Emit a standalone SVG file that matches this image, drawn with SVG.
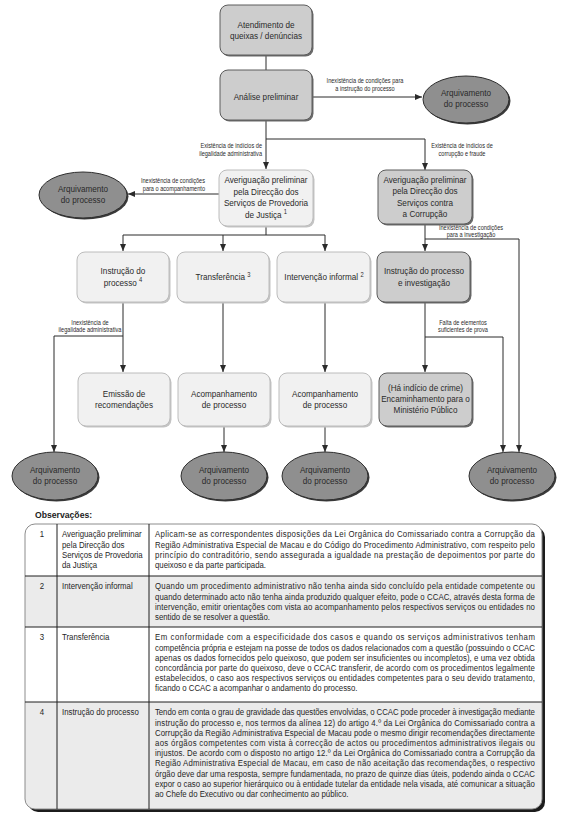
<svg xmlns="http://www.w3.org/2000/svg" width="566" height="826" viewBox="0 0 566 826">
<style>
.t{font-family:'Liberation Sans',Arial,sans-serif;font-size:9.6px;fill:#2a2a2a;text-anchor:middle}
.lb{font-family:'Liberation Sans',Arial,sans-serif;font-size:6.6px;fill:#2a2a2a}
.tb{font-family:'Liberation Sans',Arial,sans-serif;font-size:9.2px;fill:#262626}
.hd{font-family:'Liberation Sans',Arial,sans-serif;font-size:9.6px;font-weight:bold;fill:#222}
.bg{fill:#cdcdcd;stroke:#5c5c5c;stroke-width:1}
.bl{fill:#f1f1f1;stroke:#bcbcbc;stroke-width:1}
.sg{fill:#6a6a6a}
.sl{fill:#c4c4c4}
.el{fill:#8f8f8f;stroke:#2e2e2e;stroke-width:1}
.se{fill:#3a3a3a}
.c{stroke:#2a2a2a;stroke-width:1;fill:none}
.a{marker-end:url(#ar)}
.sup{font-size:6.8px}
.tl{stroke:#1e1e1e;stroke-width:1}
</style>
<defs>
<marker id="ar" markerUnits="userSpaceOnUse" markerWidth="7" markerHeight="6" refX="7" refY="3" orient="auto">
<path d="M0,0 L7,3 L0,6 z" fill="#2a2a2a"/>
</marker>
<clipPath id="tc"><rect x="25" y="524" width="517" height="285" rx="10"/></clipPath>
</defs>

<g id="connectors">
<line class="c" x1="266" y1="55" x2="266" y2="70"/>
<line class="c a" x1="312" y1="97" x2="422" y2="97"/>
<line class="c a" x1="266" y1="120" x2="266" y2="169"/>
<polyline class="c a" points="266,139 425,139 425,170"/>
<line class="c a" x1="219" y1="194" x2="128" y2="194"/>
<polyline class="c" points="266,227 266,235"/>
<line class="c" x1="123" y1="235" x2="325" y2="235"/>
<line class="c a" x1="123" y1="235" x2="123" y2="251"/>
<line class="c a" x1="223" y1="235" x2="223" y2="251"/>
<line class="c a" x1="325" y1="235" x2="325" y2="251"/>
<line class="c a" x1="425" y1="224" x2="425" y2="251"/>
<polyline class="c a" points="425,239 519,239 519,452"/>
<line class="c a" x1="123" y1="302" x2="123" y2="372"/>
<polyline class="c a" points="123,336 54,336 54,452"/>
<line class="c a" x1="223" y1="302" x2="223" y2="372"/>
<line class="c a" x1="325" y1="302" x2="325" y2="372"/>
<line class="c a" x1="425" y1="302" x2="425" y2="372"/>
<polyline class="c a" points="425,337 503,337 503,452"/>
<line class="c a" x1="224" y1="426" x2="224" y2="452"/>
<line class="c a" x1="325" y1="426" x2="325" y2="452"/>
<g transform="translate(365 0) scale(0.85 1)">
<text class="lb" text-anchor="middle" x="0" y="83">Inexistência de condições para</text>
<text class="lb" text-anchor="middle" x="0" y="91">a instrução do processo</text>
</g>
<g transform="translate(262 0) scale(0.85 1)">
<text class="lb" text-anchor="end" x="0" y="148">Existência de indícios de</text>
<text class="lb" text-anchor="end" x="0" y="156">ilegalidade administrativa</text>
</g>
<g transform="translate(462 0) scale(0.85 1)">
<text class="lb" text-anchor="middle" x="0" y="148">Existência de indícios de</text>
<text class="lb" text-anchor="middle" x="0" y="156">corrupção e fraude</text>
</g>
<g transform="translate(205 0) scale(0.85 1)">
<text class="lb" text-anchor="end" x="0" y="183">Inexistência de condições</text>
<text class="lb" text-anchor="end" x="0" y="191">para o acompanhamento</text>
</g>
<g transform="translate(471 0) scale(0.85 1)">
<text class="lb" text-anchor="middle" x="0" y="230.5">Inexistência de condições</text>
<text class="lb" text-anchor="middle" x="0" y="237">para a investigação</text>
</g>
<g transform="translate(90 0) scale(0.85 1)">
<text class="lb" text-anchor="middle" x="0" y="325">Inexistência de</text>
<text class="lb" text-anchor="middle" x="0" y="332">ilegalidade administrativa</text>
</g>
<g transform="translate(463 0) scale(0.85 1)">
<text class="lb" text-anchor="middle" x="0" y="325">Falta de elementos</text>
<text class="lb" text-anchor="middle" x="0" y="332">suficientes de prova</text>
</g>
</g>

<g id="n-atendimento">
<rect class="sg" x="221.5" y="6.5" width="92" height="50" rx="8"/>
<rect class="bg" x="220" y="5" width="92" height="50" rx="8"/>
<g transform="translate(266 0) scale(0.85 1)">
<text class="t" x="0" y="28">Atendimento de</text>
<text class="t" x="0" y="39.5">queixas / denúncias</text>
</g>
</g>
<g id="n-analise">
<rect class="sg" x="221.5" y="71.5" width="92" height="50" rx="8"/>
<rect class="bg" x="220" y="70" width="92" height="50" rx="8"/>
<g transform="translate(266 0) scale(0.85 1)">
<text class="t" x="0" y="100">Análise preliminar</text>
</g>
</g>
<g id="n-arq1">
<ellipse class="se" cx="467.5" cy="101" rx="43" ry="23.5"/>
<ellipse class="el" cx="466" cy="99.5" rx="43" ry="23.5"/>
<g transform="translate(466 0) scale(0.85 1)">
<text class="t" x="0" y="96">Arquivamento</text>
<text class="t" x="0" y="107.5">do processo</text>
</g>
</g>
<g id="n-provedoria">
<rect class="sl" x="220.5" y="171.5" width="94" height="56" rx="8"/>
<rect class="bl" x="219" y="170" width="94" height="56" rx="8"/>
<g transform="translate(266 0) scale(0.85 1)">
<text class="t" x="0" y="183.5">Averiguação preliminar</text>
<text class="t" x="0" y="195">pela Direcção dos</text>
<text class="t" x="0" y="206.5">Serviços de Provedoria</text>
<text class="t" x="0" y="218">de Justiça <tspan class="sup" dy="-3.5">1</tspan></text>
</g>
</g>
<g id="n-arq2">
<ellipse class="se" cx="84.5" cy="196.5" rx="44" ry="23"/>
<ellipse class="el" cx="83" cy="195" rx="44" ry="23"/>
<g transform="translate(83 0) scale(0.85 1)">
<text class="t" x="0" y="192">Arquivamento</text>
<text class="t" x="0" y="203.5">do processo</text>
</g>
</g>
<g id="n-corrupcao">
<rect class="sg" x="379.5" y="171.5" width="94" height="54" rx="8"/>
<rect class="bg" x="378" y="170" width="94" height="54" rx="8"/>
<g transform="translate(425 0) scale(0.85 1)">
<text class="t" x="0" y="183">Averiguação preliminar</text>
<text class="t" x="0" y="194.5">pela Direcção dos</text>
<text class="t" x="0" y="206">Serviços contra</text>
<text class="t" x="0" y="217.5">a Corrupção</text>
</g>
</g>
<g id="n-instrucao4">
<rect class="sl" x="78.5" y="253.5" width="92" height="50" rx="8"/>
<rect class="bl" x="77" y="252" width="92" height="50" rx="8"/>
<g transform="translate(123 0) scale(0.85 1)">
<text class="t" x="0" y="274.5">Instrução do</text>
<text class="t" x="0" y="286">processo <tspan class="sup" dy="-3.5">4</tspan></text>
</g>
</g>
<g id="n-transferencia">
<rect class="sl" x="178.5" y="253.5" width="92" height="50" rx="8"/>
<rect class="bl" x="177" y="252" width="92" height="50" rx="8"/>
<g transform="translate(223 0) scale(0.85 1)">
<text class="t" x="0" y="280.5">Transferência <tspan class="sup" dy="-3.5">3</tspan></text>
</g>
</g>
<g id="n-intervencao">
<rect class="sl" x="278.5" y="253.5" width="93" height="50" rx="8"/>
<rect class="bl" x="277" y="252" width="93" height="50" rx="8"/>
<g transform="translate(324 0) scale(0.85 1)">
<text class="t" x="0" y="280.5">Intervenção informal <tspan class="sup" dy="-3.5">2</tspan></text>
</g>
</g>
<g id="n-investigacao">
<rect class="sg" x="378.5" y="253.5" width="93" height="50" rx="8"/>
<rect class="bg" x="377" y="252" width="93" height="50" rx="8"/>
<g transform="translate(424 0) scale(0.85 1)">
<text class="t" x="0" y="274.5">Instrução do processo</text>
<text class="t" x="0" y="286">e investigação</text>
</g>
</g>
<g id="n-emissao">
<rect class="sl" x="79.5" y="374.5" width="92" height="53" rx="8"/>
<rect class="bl" x="78" y="373" width="92" height="53" rx="8"/>
<g transform="translate(124 0) scale(0.85 1)">
<text class="t" x="0" y="397">Emissão de</text>
<text class="t" x="0" y="408.5">recomendações</text>
</g>
</g>
<g id="n-acomp1">
<rect class="sl" x="179.5" y="374.5" width="92" height="53" rx="8"/>
<rect class="bl" x="178" y="373" width="92" height="53" rx="8"/>
<g transform="translate(224 0) scale(0.85 1)">
<text class="t" x="0" y="397">Acompanhamento</text>
<text class="t" x="0" y="408.5">de processo</text>
</g>
</g>
<g id="n-acomp2">
<rect class="sl" x="280.5" y="374.5" width="92" height="53" rx="8"/>
<rect class="bl" x="279" y="373" width="92" height="53" rx="8"/>
<g transform="translate(325 0) scale(0.85 1)">
<text class="t" x="0" y="397">Acompanhamento</text>
<text class="t" x="0" y="408.5">de processo</text>
</g>
</g>
<g id="n-ministerio">
<rect class="sg" x="380.5" y="374.5" width="93" height="53" rx="8"/>
<rect class="bg" x="379" y="373" width="93" height="53" rx="8"/>
<g transform="translate(425.5 0) scale(0.85 1)">
<text class="t" x="0" y="391.5">(Há indício de crime)</text>
<text class="t" x="0" y="402.5">Encaminhamento para o</text>
<text class="t" x="0" y="413.5">Ministério Público</text>
</g>
</g>
<g id="n-arq3">
<ellipse class="se" cx="56.5" cy="477.5" rx="43" ry="24"/>
<ellipse class="el" cx="55" cy="476" rx="43" ry="24"/>
<g transform="translate(55 0) scale(0.85 1)">
<text class="t" x="0" y="473">Arquivamento</text>
<text class="t" x="0" y="484.5">do processo</text>
</g>
</g>
<g id="n-arq4">
<ellipse class="se" cx="225.5" cy="477.5" rx="43" ry="24"/>
<ellipse class="el" cx="224" cy="476" rx="43" ry="24"/>
<g transform="translate(224 0) scale(0.85 1)">
<text class="t" x="0" y="473">Arquivamento</text>
<text class="t" x="0" y="484.5">do processo</text>
</g>
</g>
<g id="n-arq5">
<ellipse class="se" cx="326.5" cy="477.5" rx="43" ry="24"/>
<ellipse class="el" cx="325" cy="476" rx="43" ry="24"/>
<g transform="translate(325 0) scale(0.85 1)">
<text class="t" x="0" y="473">Arquivamento</text>
<text class="t" x="0" y="484.5">do processo</text>
</g>
</g>
<g id="n-arq6">
<ellipse class="se" cx="513.5" cy="477.5" rx="43" ry="24"/>
<ellipse class="el" cx="512" cy="476" rx="43" ry="24"/>
<g transform="translate(512 0) scale(0.85 1)">
<text class="t" x="0" y="473">Arquivamento</text>
<text class="t" x="0" y="484.5">do processo</text>
</g>
</g>

<g id="observacoes">
<g transform="translate(35 0) scale(0.9 1)">
<text class="hd" x="0" y="518.5">Observações:</text>
</g>
<rect x="28" y="527" width="517" height="285" rx="10" fill="#1c1c1c"/>
<rect x="25" y="524" width="517" height="285" rx="10" fill="#ffffff"/>
<g clip-path="url(#tc)">
<rect x="25" y="576" width="517" height="51" fill="#ebebeb"/>
<rect x="25" y="702" width="517" height="107" fill="#ebebeb"/>
</g>
<rect x="25" y="524" width="517" height="285" rx="10" fill="none" stroke="#8c8c8c" stroke-width="1"/>
<line class="tl" x1="25" y1="576" x2="542" y2="576"/>
<line class="tl" x1="25" y1="627" x2="542" y2="627"/>
<line class="tl" x1="25" y1="702" x2="542" y2="702"/>
<line class="tl" x1="57" y1="524" x2="57" y2="809"/>
<line class="tl" x1="149" y1="524" x2="149" y2="809"/>

<g transform="translate(42 0) scale(0.85 1)">
<text class="tb" x="0" y="537.5" text-anchor="middle">1</text>
<text class="tb" x="0" y="589.5" text-anchor="middle">2</text>
<text class="tb" x="0" y="640.5" text-anchor="middle">3</text>
<text class="tb" x="0" y="715.5" text-anchor="middle">4</text>
</g>
<g transform="translate(62 0) scale(0.85 1)">
<text class="tb" x="0" y="537.5">Averiguação preliminar</text>
<text class="tb" x="0" y="547.7">pela Direcção dos</text>
<text class="tb" x="0" y="557.9">Serviços de Provedoria</text>
<text class="tb" x="0" y="568.1">da Justiça</text>
<text class="tb" x="0" y="589.5">Intervenção informal</text>
<text class="tb" x="0" y="640.5">Transferência</text>
<text class="tb" x="0" y="715.5">Instrução do processo</text>
</g>
<g transform="translate(155 0) scale(0.85 1)">
<text class="tb" x="0" y="537.5" textLength="447" lengthAdjust="spacing">Aplicam-se as correspondentes disposições da Lei Orgânica do Comissariado contra a Corrupção da</text>
<text class="tb" x="0" y="547.7" textLength="447" lengthAdjust="spacing">Região Administrativa Especial de Macau e do Código do Procedimento Administrativo, com respeito pelo</text>
<text class="tb" x="0" y="557.9" textLength="447" lengthAdjust="spacing">princípio do contraditório, sendo assegurada a igualdade na prestação de depoimentos por parte do</text>
<text class="tb" x="0" y="568.1">queixoso e da parte participada.</text>

<text class="tb" x="0" y="589.5" textLength="447" lengthAdjust="spacing">Quando um procedimento administrativo não tenha ainda sido concluído pela entidade competente ou</text>
<text class="tb" x="0" y="599.7" textLength="447" lengthAdjust="spacing">quando determinado acto não tenha ainda produzido qualquer efeito, pode o CCAC, através desta forma de</text>
<text class="tb" x="0" y="609.9" textLength="447" lengthAdjust="spacing">intervenção, emitir orientações com vista ao acompanhamento pelos respectivos serviços ou entidades no</text>
<text class="tb" x="0" y="620.1">sentido de se resolver a questão.</text>

<text class="tb" x="0" y="640.5" textLength="447" lengthAdjust="spacing">Em conformidade com a especificidade dos casos e quando os serviços administrativos tenham</text>
<text class="tb" x="0" y="650.7" textLength="447" lengthAdjust="spacing">competência própria e estejam na posse de todos os dados relacionados com a questão (possuindo o CCAC</text>
<text class="tb" x="0" y="660.9" textLength="447" lengthAdjust="spacing">apenas os dados fornecidos pelo queixoso, que podem ser insuficientes ou incompletos), e uma vez obtida</text>
<text class="tb" x="0" y="671.1" textLength="447" lengthAdjust="spacing">concordância por parte do queixoso, deve o CCAC transferir, de acordo com os procedimentos legalmente</text>
<text class="tb" x="0" y="681.3" textLength="447" lengthAdjust="spacing">estabelecidos, o caso aos respectivos serviços ou entidades competentes para o seu devido tratamento,</text>
<text class="tb" x="0" y="691.5">ficando o CCAC a acompanhar o andamento do processo.</text>

<text class="tb" x="0" y="715.5" textLength="447" lengthAdjust="spacing">Tendo em conta o grau de gravidade das questões envolvidas, o CCAC pode proceder à investigação mediante</text>
<text class="tb" x="0" y="725.7" textLength="447" lengthAdjust="spacing">instrução do processo e, nos termos da alínea 12) do artigo 4.º da Lei Orgânica do Comissariado contra a</text>
<text class="tb" x="0" y="735.9" textLength="447" lengthAdjust="spacing">Corrupção da Região Administrativa Especial de Macau pode o mesmo dirigir recomendações directamente</text>
<text class="tb" x="0" y="746.1" textLength="447" lengthAdjust="spacing">aos órgãos competentes com vista à correcção de actos ou procedimentos administrativos ilegais ou</text>
<text class="tb" x="0" y="756.3" textLength="447" lengthAdjust="spacing">injustos. De acordo com o disposto no artigo 12.º da Lei Orgânica do Comissariado contra a Corrupção da</text>
<text class="tb" x="0" y="766.5" textLength="447" lengthAdjust="spacing">Região Administrativa Especial de Macau, em caso de não aceitação das recomendações, o respectivo</text>
<text class="tb" x="0" y="776.7" textLength="447" lengthAdjust="spacing">órgão deve dar uma resposta, sempre fundamentada, no prazo de quinze dias úteis, podendo ainda o CCAC</text>
<text class="tb" x="0" y="786.9" textLength="447" lengthAdjust="spacing">expor o caso ao superior hierárquico ou à entidade tutelar da entidade nela visada, até comunicar a situação</text>
<text class="tb" x="0" y="797.1">ao Chefe do Executivo ou dar conhecimento ao público.</text>
</g>
</g>
</svg>
